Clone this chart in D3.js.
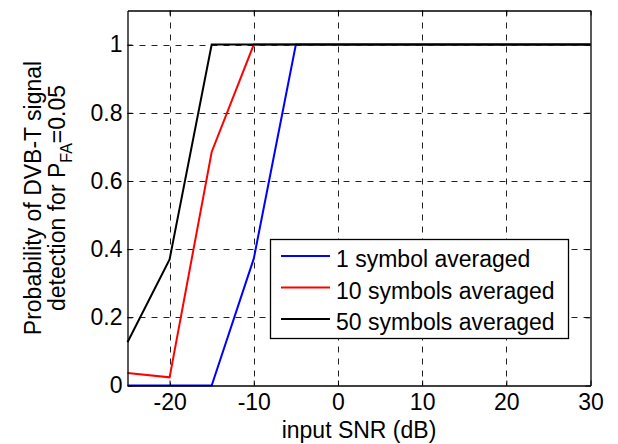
<!DOCTYPE html>
<html>
<head>
<meta charset="utf-8">
<script src="https://cdn.jsdelivr.net/npm/d3@7"></script>
<style>
  body { margin: 0; background: #fff; }
  text { font-family: "Liberation Sans", Arial, sans-serif; }
</style>
</head>
<body>
<script>
// data
var snr = [-25, -20, -15, -10, -5, 0, 5, 10, 15, 20, 25, 30];
var pd1 = [0, 0, 0, 0.372, 1, 1, 1, 1, 1, 1, 1, 1];
var pd10 = [0.037, 0.024, 0.685, 1, 1, 1, 1, 1, 1, 1, 1, 1];
var pd50 = [0.127, 0.37, 1, 1, 1, 1, 1, 1, 1, 1, 1, 1];
var seriesNames = ["1 symbol averaged", "10 symbols averaged", "50 symbols averaged"];
var seriesColors = ["#0000ff", "#ff0000", "#000000"];
var xTicks = [-20, -10, 0, 10, 20, 30];
var yTicks = [0, 0.2, 0.4, 0.6, 0.8, 1];

var w = 618, h = 444;
var pLeft = 127.5, pRight = 590.5, pTop = 10.5, pBottom = 385.5; // plot box edges
var fs = 23; // font size

var svg = d3.select("body").append("svg")
    .attr("width", w)
    .attr("height", h);

var x = d3.scaleLinear().domain([-25, 30]).range([pLeft, pRight]);
var y = d3.scaleLinear().domain([0, 1.1]).range([pBottom, pTop]);

// grid (dashed)
var grid = svg.append("g");
grid.selectAll(".vg").data(xTicks.filter(function(d){ return d > -25 && d < 30; }))
  .enter().append("line")
  .attr("x1", function(d){ return Math.round(x(d)) + 0.5; })
  .attr("x2", function(d){ return Math.round(x(d)) + 0.5; })
  .attr("y1", pTop).attr("y2", pBottom)
  .attr("stroke", "#222").attr("stroke-width", 1).attr("stroke-dasharray", "6,6");
grid.selectAll(".hg").data(yTicks.filter(function(d){ return d > 0; }))
  .enter().append("line")
  .attr("y1", function(d){ return Math.round(y(d)) + 0.5; })
  .attr("y2", function(d){ return Math.round(y(d)) + 0.5; })
  .attr("x1", pLeft).attr("x2", pRight)
  .attr("stroke", "#222").attr("stroke-width", 1).attr("stroke-dasharray", "6,6");

// lines
var line = d3.line()
    .x(function(d){ return x(d[0]); })
    .y(function(d){ return y(d[1]); });
[pd1, pd10, pd50].forEach(function(vals, i){
  svg.append("path")
    .datum(snr.map(function(s, j){ return [s, vals[j]]; }))
    .attr("d", line)
    .attr("fill", "none")
    .attr("stroke", seriesColors[i])
    .attr("stroke-width", 2);
});

// axes (MATLAB box style, ticks inward)
var xAxis = d3.axisBottom(x).tickValues(xTicks).tickSizeInner(-5).tickSizeOuter(0).tickPadding(8)
    .tickFormat(function(d){ return String(d); });
var yAxis = d3.axisLeft(y).tickValues(yTicks).tickSizeInner(-5).tickSizeOuter(0).tickPadding(5)
    .tickFormat(function(d){ return String(d); });

svg.append("g").attr("transform", "translate(0," + pBottom + ")").call(xAxis);
svg.append("g").attr("transform", "translate(" + pLeft + ",0)").call(yAxis);
svg.append("g").attr("transform", "translate(0," + pTop + ")")
  .call(d3.axisTop(x).tickValues(xTicks).tickSizeInner(-5).tickSizeOuter(0).tickFormat(""));
svg.append("g").attr("transform", "translate(" + pRight + ",0)")
  .call(d3.axisRight(y).tickValues(yTicks).tickSizeInner(-5).tickSizeOuter(0).tickFormat(""));
svg.selectAll(".domain").attr("stroke", "#000").attr("stroke-width", 1.3);
svg.selectAll(".tick line").attr("stroke", "#000");
svg.selectAll(".tick text").attr("font-size", fs).attr("fill", "#000")
  .style("font-family", "'Liberation Sans', Arial, sans-serif");

// axis labels
svg.append("text")
  .attr("x", (pLeft + pRight) / 2).attr("y", 438)
  .attr("text-anchor", "middle").attr("font-size", fs)
  .text("input SNR (dB)");

var yl = svg.append("g").attr("transform", "translate(41," + ((pTop + pBottom) / 2) + ") rotate(-90)");
yl.append("text").attr("x", 0).attr("y", 0)
  .attr("text-anchor", "middle").attr("font-size", fs)
  .text("Probability of DVB-T signal");
var l2 = yl.append("text").attr("x", 0).attr("y", 24)
  .attr("text-anchor", "middle").attr("font-size", fs);
l2.append("tspan").text("detection for P");
l2.append("tspan").attr("dy", 7).attr("font-size", 16).text("FA");
l2.append("tspan").attr("dy", -7).text("=0.05");

// legend
var lg = svg.append("g");
lg.append("rect")
  .attr("x", 270.5).attr("y", 239.5).attr("width", 298).attr("height", 99)
  .attr("fill", "#fff").attr("stroke", "#000").attr("stroke-width", 1.3);
var ly = d3.scalePoint().domain(seriesNames).range([256, 319]);
seriesNames.forEach(function(n, i){
  lg.append("line")
    .attr("x1", 281).attr("x2", 330)
    .attr("y1", ly(n)).attr("y2", ly(n))
    .attr("stroke", seriesColors[i]).attr("stroke-width", 2);
  lg.append("text")
    .attr("x", 336).attr("y", ly(n) + 11)
    .attr("font-size", fs)
    .text(n);
});
</script>
</body>
</html>
